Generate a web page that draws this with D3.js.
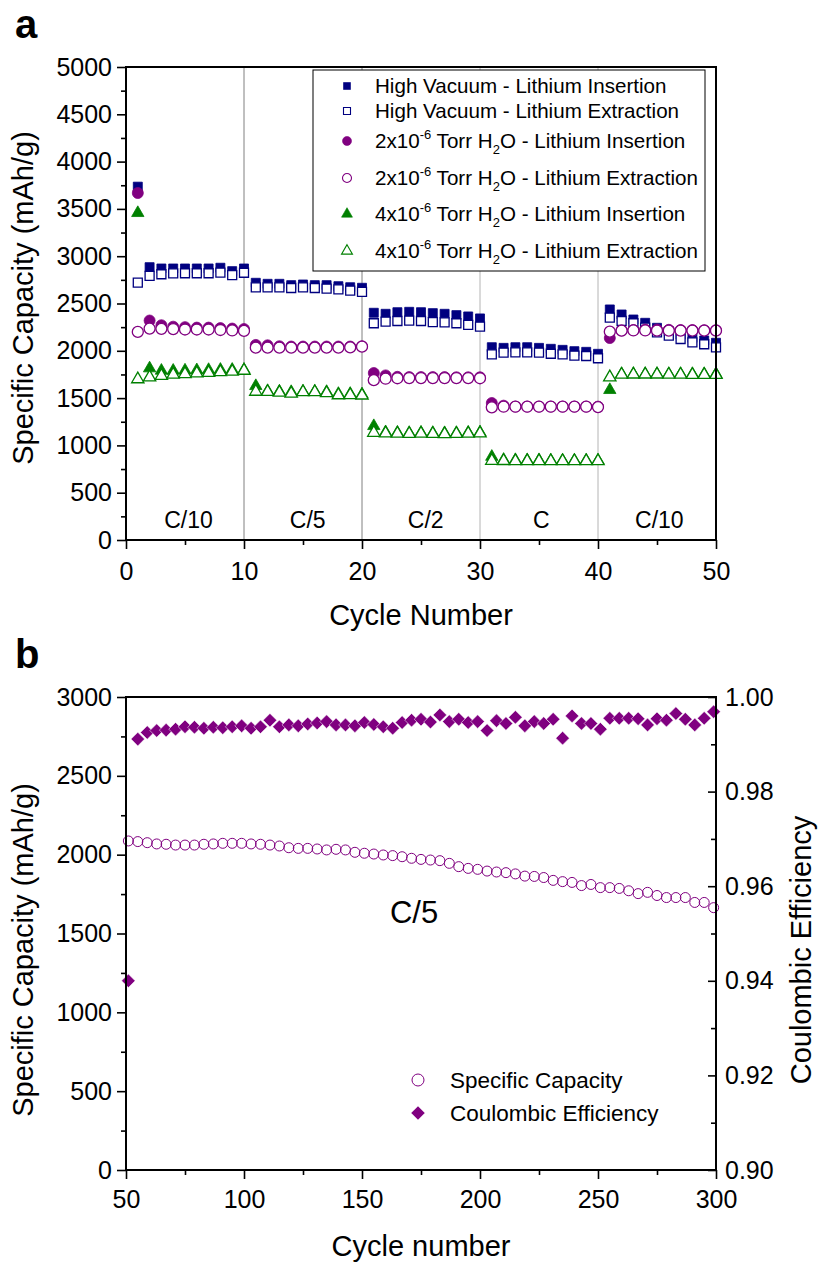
<!DOCTYPE html>
<html>
<head>
<meta charset="utf-8">
<script src="https://cdn.jsdelivr.net/npm/d3@7"></script>
<style>
  body { margin: 0; background: #fff; }
  svg { display: block; font-family: "Liberation Sans", Arial, sans-serif; }
</style>
</head>
<body>
<svg id="chart" width="820" height="1263"></svg>
<script>
// ---------- panel a : rate test, cycles 1..50 ----------
const hvIns = [3735, 2884, 2870, 2870, 2870, 2870, 2870, 2878, 2842, 2870,
               2719, 2708, 2708, 2694, 2701, 2694, 2694, 2683, 2672, 2666,
               2402, 2391, 2408, 2412, 2408, 2398, 2391, 2377, 2363, 2342,
               2038, 2031, 2038, 2038, 2031, 2021, 2010, 1996, 1989, 1968,
               2437, 2384, 2331, 2296, 2243, 2207, 2172, 2137, 2109, 2085];
const hvExt = [2720, 2791, 2809, 2819, 2820, 2820, 2820, 2826, 2801, 2825,
               2671, 2671, 2671, 2664, 2671, 2664, 2657, 2650, 2636, 2622,
               2291, 2308, 2315, 2318, 2315, 2304, 2301, 2291, 2273, 2255,
               1963, 1980, 1984, 1984, 1980, 1969, 1963, 1948, 1945, 1921,
               2350, 2315, 2291, 2244, 2195, 2160, 2125, 2090, 2069, 2037];
const w2Ins = [3668, 2320, 2270, 2255, 2250, 2245, 2245, 2240, 2235, 2230,
               2062, 2058, 2048, 2045, 2045, 2045, 2045, 2045, 2045, 2048,
               1765, 1740, 1725, 1722, 1722, 1722, 1722, 1720, 1720, 1720,
               1448, 1420, 1410, 1410, 1410, 1410, 1410, 1410, 1410, 1410,
               2135, 2215, 2220, 2225, 2225, 2222, 2220, 2220, 2218, 2218];
const w2Ext = [2200, 2235, 2232, 2230, 2225, 2225, 2225, 2220, 2215, 2210,
               2033, 2033, 2033, 2033, 2033, 2033, 2033, 2033, 2036, 2044,
               1690, 1705, 1710, 1712, 1712, 1712, 1712, 1712, 1712, 1710,
               1402, 1409, 1409, 1409, 1409, 1409, 1409, 1409, 1409, 1405,
               2202, 2213, 2215, 2215, 2213, 2213, 2213, 2213, 2213, 2213];
const w4Ins = [3457, 1815, 1790, 1790, 1792, 1795, 1798, 1800, 1800, 1800,
               1628, 1575, 1570, 1565, 1570, 1570, 1565, 1545, 1545, 1540,
               1205, 1140, 1135, 1132, 1135, 1132, 1130, 1132, 1135, 1138,
               880, 848, 845, 843, 843, 842, 842, 842, 842, 842,
               1586, 1755, 1755, 1755, 1755, 1755, 1755, 1755, 1755, 1755];
const w4Ext = [1700, 1720, 1735, 1748, 1755, 1762, 1768, 1775, 1780, 1790,
               1568, 1566, 1559, 1549, 1563, 1563, 1554, 1531, 1533, 1528,
               1134, 1128, 1125, 1122, 1125, 1122, 1120, 1122, 1125, 1128,
               838, 836, 835, 835, 835, 834, 834, 834, 834, 834,
               1720, 1748, 1750, 1750, 1750, 1748, 1748, 1746, 1746, 1746];

const rateLabels = ["C/10", "C/5", "C/2", "C", "C/10"];
const ratePos = [5.3, 15.4, 25.4, 35.2, 45.2];
const rateBreaks = [10, 20, 30, 40];

const xTicksA = [0, 10, 20, 30, 40, 50];
const xMinorA = [5, 15, 25, 35, 45];
const yTicksA = [0, 500, 1000, 1500, 2000, 2500, 3000, 3500, 4000, 4500, 5000];
const yMinorA = [250, 750, 1250, 1750, 2250, 2750, 3250, 3750, 4250, 4750];

// ---------- panel b : long cycling at C/5 ----------
const cyclesB = [51, 55, 59, 63, 67, 71, 75, 79, 83, 87, 91, 95, 99, 103, 107, 111,
                 115, 119, 123, 127, 131, 135, 139, 143, 147, 151, 155, 159, 163, 167,
                 171, 175, 179, 183, 187, 191, 195, 199, 203, 207, 211, 215, 219, 223,
                 227, 231, 235, 239, 243, 247, 251, 255, 259, 263, 267, 271, 275, 279,
                 283, 287, 291, 295, 299];
const capB = [2087, 2083, 2076, 2068, 2066, 2061, 2061, 2061, 2066, 2068, 2072, 2072, 2072,
              2068, 2066, 2061, 2055, 2044, 2040, 2040, 2036, 2030, 2034, 2030, 2015, 2009,
              2004, 1998, 1994, 1987, 1977, 1970, 1966, 1962, 1945, 1924, 1913, 1907, 1896,
              1890, 1886, 1878, 1864, 1862, 1855, 1837, 1829, 1824, 1804, 1811, 1791, 1791,
              1786, 1771, 1753, 1761, 1741, 1728, 1728, 1728, 1697, 1697, 1664];
const ceB = [0.9400, 0.9911, 0.9925, 0.9929, 0.9930, 0.9932, 0.9937, 0.9936, 0.9934, 0.9936,
             0.9935, 0.9937, 0.9939, 0.9934, 0.9937, 0.9951, 0.9937, 0.9941, 0.9939, 0.9943,
             0.9945, 0.9948, 0.9941, 0.9941, 0.9939, 0.9946, 0.9942, 0.9937, 0.9934, 0.9946,
             0.9951, 0.9953, 0.9947, 0.9962, 0.9948, 0.9953, 0.9946, 0.9948, 0.9929, 0.9950,
             0.9944, 0.9957, 0.9939, 0.9948, 0.9944, 0.9953, 0.9913, 0.9960, 0.9944, 0.9944,
             0.9932, 0.9955, 0.9955, 0.9955, 0.9954, 0.9941, 0.9954, 0.9951, 0.9965, 0.9953,
             0.9941, 0.9955, 0.9969];

const xTicksB = [50, 100, 150, 200, 250, 300];
const xMinorB = [75, 125, 175, 225, 275];
const yTicksB = [0, 500, 1000, 1500, 2000, 2500, 3000];
const yMinorB = [250, 750, 1250, 1750, 2250, 2750];
const y2TicksB = [0.90, 0.92, 0.94, 0.96, 0.98, 1.00];
const y2MinorB = [0.91, 0.93, 0.95, 0.97, 0.99];

const NAVY = "#000080", PURPLE = "#800080", GREEN = "#008000";
const FONT = "'Liberation Sans', Arial, sans-serif";
const TICK_FS = 25, TITLE_FS = 29;

const svg = d3.select("#chart");

// scales
const xA = d3.scaleLinear().domain([0, 50]).range([126, 716]);
const yA = d3.scaleLinear().domain([0, 5000]).range([540, 67]);
const xB = d3.scaleLinear().domain([50, 300]).range([126, 716]);
const yB = d3.scaleLinear().domain([0, 3000]).range([1170, 697]);
const yB2 = d3.scaleLinear().domain([0.90, 1.00]).range([1170, 697]);

// помощник для осей
function styleAxis(g, fs) {
  g.attr("font-family", FONT).attr("font-size", fs);
  g.select(".domain").remove();
  g.selectAll(".tick line").attr("stroke", "#000").attr("stroke-width", 1.6);
  g.selectAll(".tick text").attr("fill", "#000");
}

function addAxis(axis, tx, ty) {
  svg.append("g").attr("transform", `translate(${tx},${ty})`).call(axis).call(g => styleAxis(g, TICK_FS));
}

// ================= PANEL A =================
// вертикальные разделители режимов
svg.append("g").selectAll("line").data(rateBreaks).join("line")
  .attr("x1", d => xA(d)).attr("x2", d => xA(d))
  .attr("y1", yA(0)).attr("y2", yA(5000))
  .attr("stroke", (d, i) => i < 2 ? "#808080" : "#b4b4b4")
  .attr("stroke-width", 1);

svg.append("g").selectAll("text").data(rateLabels).join("text")
  .attr("x", (d, i) => xA(ratePos[i])).attr("y", 528)
  .attr("text-anchor", "middle").attr("font-size", 23).text(d => d);

const seriesA = [
  { v: hvIns, shape: d3.symbolSquare, size: 81, color: NAVY, filled: true },
  { v: hvExt, shape: d3.symbolSquare, size: 81, color: NAVY, filled: false },
  { v: w2Ins, shape: d3.symbolCircle, size: 95, color: PURPLE, filled: true },
  { v: w2Ext, shape: d3.symbolCircle, size: 95, color: PURPLE, filled: false },
  { v: w4Ins, shape: d3.symbolTriangle, size: 66, color: GREEN, filled: true },
  { v: w4Ext, shape: d3.symbolTriangle, size: 66, color: GREEN, filled: false }
];

seriesA.forEach(s => {
  const sym = d3.symbol().type(s.shape).size(s.size);
  svg.append("g").selectAll("path").data(s.v).join("path")
    .attr("d", sym)
    .attr("transform", (d, i) => `translate(${xA(i + 1)},${yA(d)})`)
    .attr("fill", s.filled ? s.color : "#fff")
    .attr("stroke", s.color)
    .attr("stroke-width", s.filled ? 0.8 : 1.3);
});

// рамка панели a
svg.append("rect").attr("x", xA(0)).attr("y", yA(5000))
  .attr("width", xA(50) - xA(0)).attr("height", yA(0) - yA(5000))
  .attr("fill", "none").attr("stroke", "#000").attr("stroke-width", 2);

addAxis(d3.axisLeft(yA).tickValues(yTicksA).tickSize(9).tickPadding(5).tickFormat(d3.format("d")), xA(0), 0);
addAxis(d3.axisLeft(yA).tickValues(yMinorA).tickSize(5).tickFormat(""), xA(0), 0);
addAxis(d3.axisBottom(xA).tickValues(xTicksA).tickSize(9).tickPadding(13).tickFormat(d3.format("d")), 0, yA(0));
addAxis(d3.axisBottom(xA).tickValues(xMinorA).tickSize(5).tickFormat(""), 0, yA(0));

// легенда панели a
const legA = svg.append("g");
legA.append("rect").attr("x", 313).attr("y", 70).attr("width", 392).attr("height", 201)
  .attr("fill", "#fff").attr("stroke", "#000").attr("stroke-width", 1);

const legRows = [
  { y: 86, parts: [{ t: "High Vacuum - Lithium Insertion" }] },
  { y: 111, parts: [{ t: "High Vacuum - Lithium Extraction" }] },
  { y: 141, parts: [{ t: "2x10" }, { t: "-6", sup: true }, { t: " Torr H" }, { t: "2", sub: true }, { t: "O - Lithium Insertion" }] },
  { y: 178, parts: [{ t: "2x10" }, { t: "-6", sup: true }, { t: " Torr H" }, { t: "2", sub: true }, { t: "O - Lithium Extraction" }] },
  { y: 214, parts: [{ t: "4x10" }, { t: "-6", sup: true }, { t: " Torr H" }, { t: "2", sub: true }, { t: "O - Lithium Insertion" }] },
  { y: 251, parts: [{ t: "4x10" }, { t: "-6", sup: true }, { t: " Torr H" }, { t: "2", sub: true }, { t: "O - Lithium Extraction" }] }
];
const legSizes = [49, 49, 64, 64, 52, 52];

legRows.forEach((row, i) => {
  const s = seriesA[i];
  legA.append("path")
    .attr("d", d3.symbol().type(s.shape).size(legSizes[i]))
    .attr("transform", `translate(347,${row.y})`)
    .attr("fill", s.filled ? s.color : "#fff")
    .attr("stroke", s.color).attr("stroke-width", s.filled ? 0.6 : 1.1);
  const txt = legA.append("text").attr("x", 375).attr("y", row.y + 7).attr("font-size", 20.6);
  let shift = 0;
  row.parts.forEach(p => {
    const target = p.sup ? -9 : (p.sub ? 6 : 0);
    txt.append("tspan").attr("dy", target - shift)
      .attr("font-size", (p.sup || p.sub) ? 13 : 20.6).text(p.t);
    shift = target;
  });
});

// подписи панели a
svg.append("text").attr("x", 15).attr("y", 38).attr("font-size", 40).attr("font-weight", "bold").text("a");
svg.append("text").attr("transform", "translate(33,298) rotate(-90)")
  .attr("text-anchor", "middle").attr("font-size", TITLE_FS).text("Specific Capacity (mAh/g)");
svg.append("text").attr("x", 421).attr("y", 625)
  .attr("text-anchor", "middle").attr("font-size", TITLE_FS).text("Cycle Number");

// ================= PANEL B =================
svg.append("g").selectAll("circle").data(capB).join("circle")
  .attr("cx", (d, i) => xB(cyclesB[i])).attr("cy", d => yB(d)).attr("r", 5)
  .attr("fill", "none").attr("stroke", PURPLE).attr("stroke-width", 1);

const diamond = d3.symbol().type(d3.symbolSquare).size(92);
svg.append("g").selectAll("path").data(ceB).join("path")
  .attr("d", diamond)
  .attr("transform", (d, i) => `translate(${xB(cyclesB[i])},${yB2(d)}) rotate(45)`)
  .attr("fill", PURPLE).attr("stroke", "#fff").attr("stroke-width", 0.5);

svg.append("rect").attr("x", xB(50)).attr("y", yB(3000))
  .attr("width", xB(300) - xB(50)).attr("height", yB(0) - yB(3000))
  .attr("fill", "none").attr("stroke", "#000").attr("stroke-width", 2);

addAxis(d3.axisLeft(yB).tickValues(yTicksB).tickSize(9).tickPadding(5).tickFormat(d3.format("d")), xB(50), 0);
addAxis(d3.axisLeft(yB).tickValues(yMinorB).tickSize(5).tickFormat(""), xB(50), 0);
addAxis(d3.axisRight(yB2).tickValues(y2TicksB).tickSize(-8).tickPadding(9).tickFormat(d3.format(".2f")), xB(300), 0);
addAxis(d3.axisRight(yB2).tickValues(y2MinorB).tickSize(-5).tickFormat(""), xB(300), 0);
addAxis(d3.axisBottom(xB).tickValues(xTicksB).tickSize(9).tickPadding(11).tickFormat(d3.format("d")), 0, yB(0));
addAxis(d3.axisBottom(xB).tickValues(xMinorB).tickSize(5).tickFormat(""), 0, yB(0));

svg.append("text").attr("x", 414).attr("y", 923).attr("text-anchor", "middle")
  .attr("font-size", 31).text("C/5");

// легенда панели b
svg.append("circle").attr("cx", 418).attr("cy", 1080).attr("r", 6)
  .attr("fill", "none").attr("stroke", PURPLE).attr("stroke-width", 1);
svg.append("text").attr("x", 450).attr("y", 1088).attr("font-size", 22.5).text("Specific Capacity");
svg.append("path").attr("d", diamond).attr("transform", "translate(418,1113) rotate(45)")
  .attr("fill", PURPLE);
svg.append("text").attr("x", 450).attr("y", 1121).attr("font-size", 22.5).text("Coulombic Efficiency");

svg.append("text").attr("x", 15).attr("y", 668).attr("font-size", 40).attr("font-weight", "bold").text("b");
svg.append("text").attr("transform", "translate(33,950) rotate(-90)")
  .attr("text-anchor", "middle").attr("font-size", TITLE_FS).text("Specific Capacity (mAh/g)");
svg.append("text").attr("transform", "translate(811,950) rotate(-90)")
  .attr("text-anchor", "middle").attr("font-size", TITLE_FS).text("Coulombic Efficiency");
svg.append("text").attr("x", 421).attr("y", 1256)
  .attr("text-anchor", "middle").attr("font-size", TITLE_FS).text("Cycle number");
</script>
</body>
</html>
